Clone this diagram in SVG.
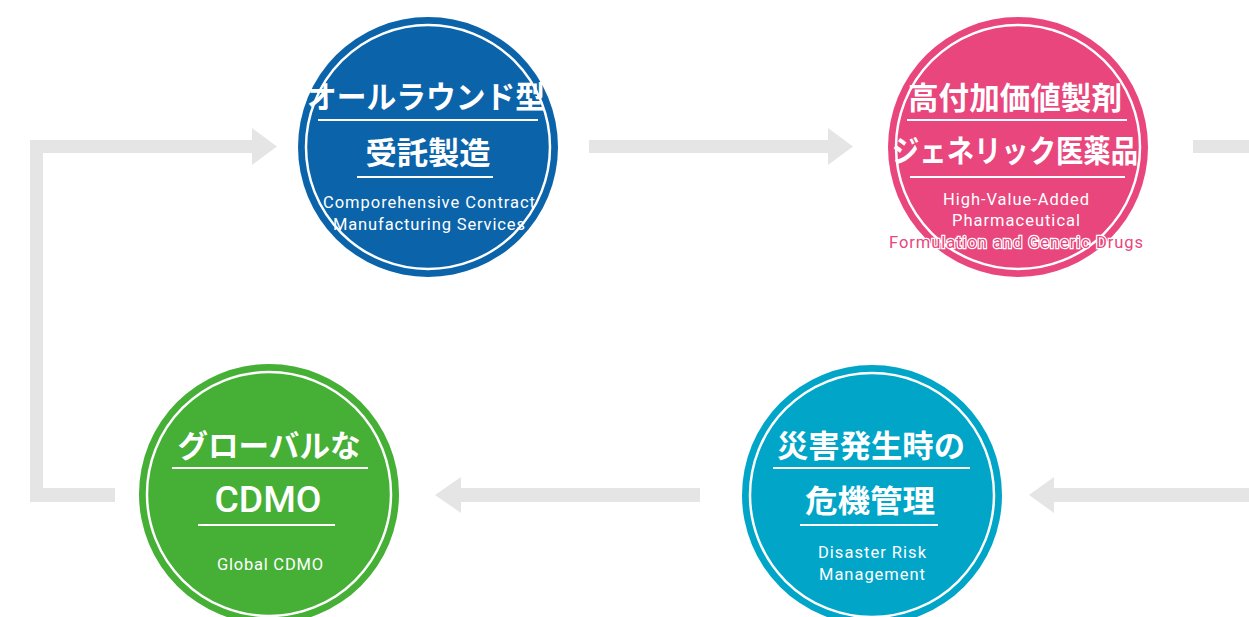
<svg xmlns="http://www.w3.org/2000/svg" width="1249" height="617" viewBox="0 0 1249 617">
<style>
.conn{fill:#e5e5e5}
.ring{fill:none;stroke:#fff;stroke-width:2.5}
.jp{font-family:"Noto Sans CJK JP","Noto Sans",sans-serif;font-weight:700;font-size:31px;fill:#fff;text-anchor:middle}
.cd{font-family:"Roboto","Liberation Sans",sans-serif;font-weight:500;font-size:36px;fill:#fff;text-anchor:middle}
.en{font-family:"Roboto","Liberation Sans",sans-serif;font-size:16.5px;fill:#fff;text-anchor:middle}
.ul{stroke:#fff;stroke-width:2}
</style>
<rect width="1249" height="617" fill="#fff"/>
<g id="connectors">
<path class="conn" d="M30,140 H252 V128 L277,146.5 L252,165 V153 H43 V488 H115 V502 H30 Z"/>
<path class="conn" d="M589,140 H828 V128 L853,146.5 L828,165 V153 H589 Z"/>
<rect class="conn" x="1193" y="140" width="56" height="13"/>
<path class="conn" d="M1249,488 H1054 V477 L1029,495 L1054,513 V502 H1249 Z"/>
<path class="conn" d="M700,488 H461 V477 L435,495 L461,513 V502 H700 Z"/>
</g>
<g id="node-contract">
<circle cx="428" cy="147" r="130" fill="#0b63a9"/>
<circle class="ring" cx="428" cy="147" r="122"/>
<text class="jp" x="426" y="108" textLength="238" lengthAdjust="spacingAndGlyphs">オールラウンド型</text>
<line class="ul" x1="318" y1="120" x2="538" y2="120"/>
<text class="jp" x="428" y="164" textLength="125" lengthAdjust="spacingAndGlyphs">受託製造</text>
<line class="ul" x1="357" y1="177" x2="493" y2="177"/>
<text class="en" x="429" y="208" textLength="212" lengthAdjust="spacing">Comporehensive Contract</text>
<text class="en" x="429" y="230" textLength="192" lengthAdjust="spacing">Manufacturing Services</text>
</g>
<g id="node-generic">
<circle cx="1018" cy="147" r="130" fill="#e8467c"/>
<circle class="ring" cx="1018" cy="147" r="122"/>
<text class="jp" x="1015" y="109" textLength="214" lengthAdjust="spacingAndGlyphs">高付加価値製剤</text>
<line class="ul" x1="907" y1="120" x2="1127" y2="120"/>
<text class="jp" x="1015" y="162" textLength="246" lengthAdjust="spacingAndGlyphs">ジェネリック医薬品</text>
<line class="ul" x1="910" y1="177" x2="1125" y2="177"/>
<text class="en" x="1016" y="205" textLength="146" lengthAdjust="spacing">High-Value-Added</text>
<text class="en" x="1016" y="226" textLength="128" lengthAdjust="spacing">Pharmaceutical</text>
<text class="en" x="1016" y="248" textLength="254" lengthAdjust="spacing" stroke="#fff" stroke-width="2.5" paint-order="stroke" style="fill:#e8467c">Formulation and Generic Drugs</text>
</g>
<g id="node-global">
<circle cx="269" cy="494" r="130" fill="#45af36"/>
<circle class="ring" cx="269" cy="494" r="122"/>
<text class="jp" x="269" y="457" textLength="183" lengthAdjust="spacingAndGlyphs">グローバルな</text>
<line class="ul" x1="172" y1="468" x2="368" y2="468"/>
<text class="cd" x="268" y="512" textLength="107" lengthAdjust="spacingAndGlyphs">CDMO</text>
<line class="ul" x1="198" y1="525" x2="335" y2="525"/>
<text class="en" x="270" y="570" textLength="106" lengthAdjust="spacing">Global CDMO</text>
</g>
<g id="node-disaster">
<circle cx="872" cy="495" r="130" fill="#00a5c8"/>
<circle class="ring" cx="872" cy="495" r="122"/>
<text class="jp" x="871" y="457" textLength="188" lengthAdjust="spacingAndGlyphs">災害発生時の</text>
<line class="ul" x1="773" y1="468" x2="970" y2="468"/>
<text class="jp" x="870" y="512" textLength="130" lengthAdjust="spacingAndGlyphs">危機管理</text>
<line class="ul" x1="800" y1="525" x2="938" y2="525"/>
<text class="en" x="872" y="558" textLength="108" lengthAdjust="spacing">Disaster Risk</text>
<text class="en" x="872" y="580" textLength="106" lengthAdjust="spacing">Management</text>
</g>
</svg>
